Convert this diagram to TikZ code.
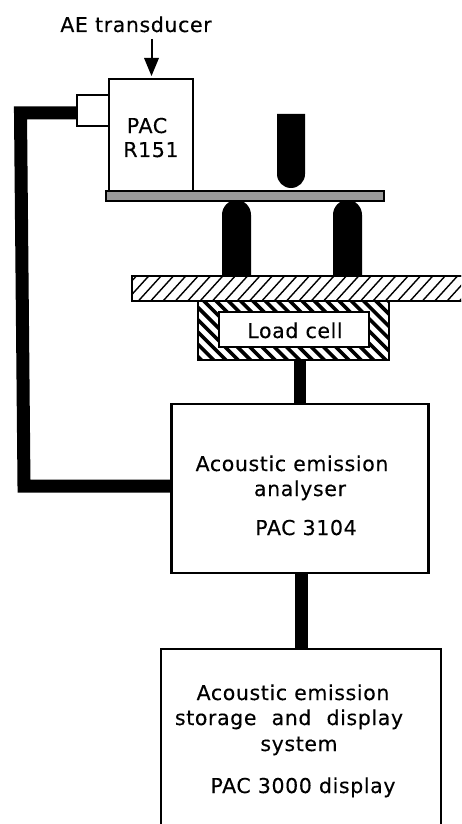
\documentclass[tikz,border=0pt]{standalone}
\usepackage{fontspec}
\setmainfont{DejaVu Sans}[LetterSpace=3,FakeBold=0.25]
\tikzset{
  x=1pt,y=-1pt,
  box/.style={draw=black,fill=white,line width=2.6pt,inner sep=0pt,outer sep=0pt,rectangle},
  thinbox/.style={box,line width=2pt},
  wire/.style={line width=13pt,black},
  solidpart/.style={fill=black,draw=none},
  lab/.style={anchor=base,inner sep=0pt,font=\fontsize{20.5}{22}\selectfont},
  hatchline/.style={line width=1.4pt,black},
  hatchthick/.style={line width=3.6pt,black},
}
\begin{document}
\begin{tikzpicture}
\useasboundingbox (0,0) rectangle (461,824);
\clip (0,0) rectangle (461,824);
% boxes
\node[thinbox,minimum width=32,minimum height=31] (conn) at (93,110.5) {};
\node[box,minimum width=84,minimum height=112] (trans) at (151,135) {};
\node[box,minimum width=257,minimum height=169] (analyser) at (300,488.5) {};
\node[box,minimum width=280,minimum height=190] (display) at (301,744) {};
% wire
\coordinate (bendA) at (20.5,113);
\coordinate (bendB) at (24,486);
\draw[wire,line join=miter] (conn.west |- bendA) -- (bendA) -- (bendB) -- (bendB -| analyser.west);
% plate
\node[box,fill=black!40,line width=2pt,minimum width=278,minimum height=10] (plate) at (245,195.5) {};
% nose and supports
\fill[solidpart] (277,114) -- (305,114) -- (305,174) arc[start angle=0,end angle=180,x radius=14,y radius=14] -- cycle;
\fill[solidpart] (222,276) -- (222,215) arc[start angle=180,end angle=360,x radius=14.5,y radius=15] -- (251,276) -- cycle;
\fill[solidpart] (333,276) -- (333,215) arc[start angle=180,end angle=360,x radius=14.5,y radius=15] -- (362,276) -- cycle;
% base plate
\node[thinbox,minimum width=350,minimum height=25] (base) at (307,288.5) {};
\begin{scope}
\clip (base.south west) rectangle (base.north east);
\foreach \i in {0,...,30} \draw[hatchline] (110+12.35*\i,305) -- (140+12.35*\i,272);
\end{scope}
\draw[line width=2pt] (base.south west) rectangle (base.north east);
% load cell
\node[box,minimum width=191,minimum height=59] (cell) at (293.5,330.5) {};
\begin{scope}
\clip (cell.south west) rectangle (cell.north east);
\foreach \i in {0,...,24} \draw[hatchthick] (125+12.3*\i,296) -- (195+12.3*\i,366);
\end{scope}
\draw[line width=2.6pt] (cell.south west) rectangle (cell.north east);
\node[box,line width=2pt,minimum width=150,minimum height=35] (inner) at (294,329.5) {};
% stems
\coordinate (stemA) at (300,380);
\coordinate (stemB) at (301.5,610);
\draw[wire,line width=12pt] (stemA |- cell.south) -- (stemA |- analyser.north);
\draw[wire] (stemB |- analyser.south) -- (stemB |- display.north);
% arrow
\coordinate (arrowStart) at (151.5,39);
\draw[line width=2pt] (arrowStart) -- (151.5,60);
\fill (144,58) -- (159,58) -- (151.5,76) -- cycle;
% labels
\node[lab] (t1) at (136,32) {AE transducer};
\node[lab] (t2) at (147,133) {PAC};
\node[lab] (t3) at (151,157) {R151};
\node[lab] (t4) at (295,338) {Load cell};
\node[lab] (t5) at (292,471) {Acoustic emission};
\node[lab] (t6) at (300,496) {analyser};
\node[lab] (t7) at (306,535) {PAC 3104};
\node[lab] (t8) at (293,700) {Acoustic emission};
\node[lab] (t9) at (289,725) {storage\hspace{8pt} and\hspace{8pt} display};
\node[lab] (t10) at (299,751) {system};
\node[lab] (t11) at (303,793) {PAC 3000 display};
\end{tikzpicture}
\end{document}
